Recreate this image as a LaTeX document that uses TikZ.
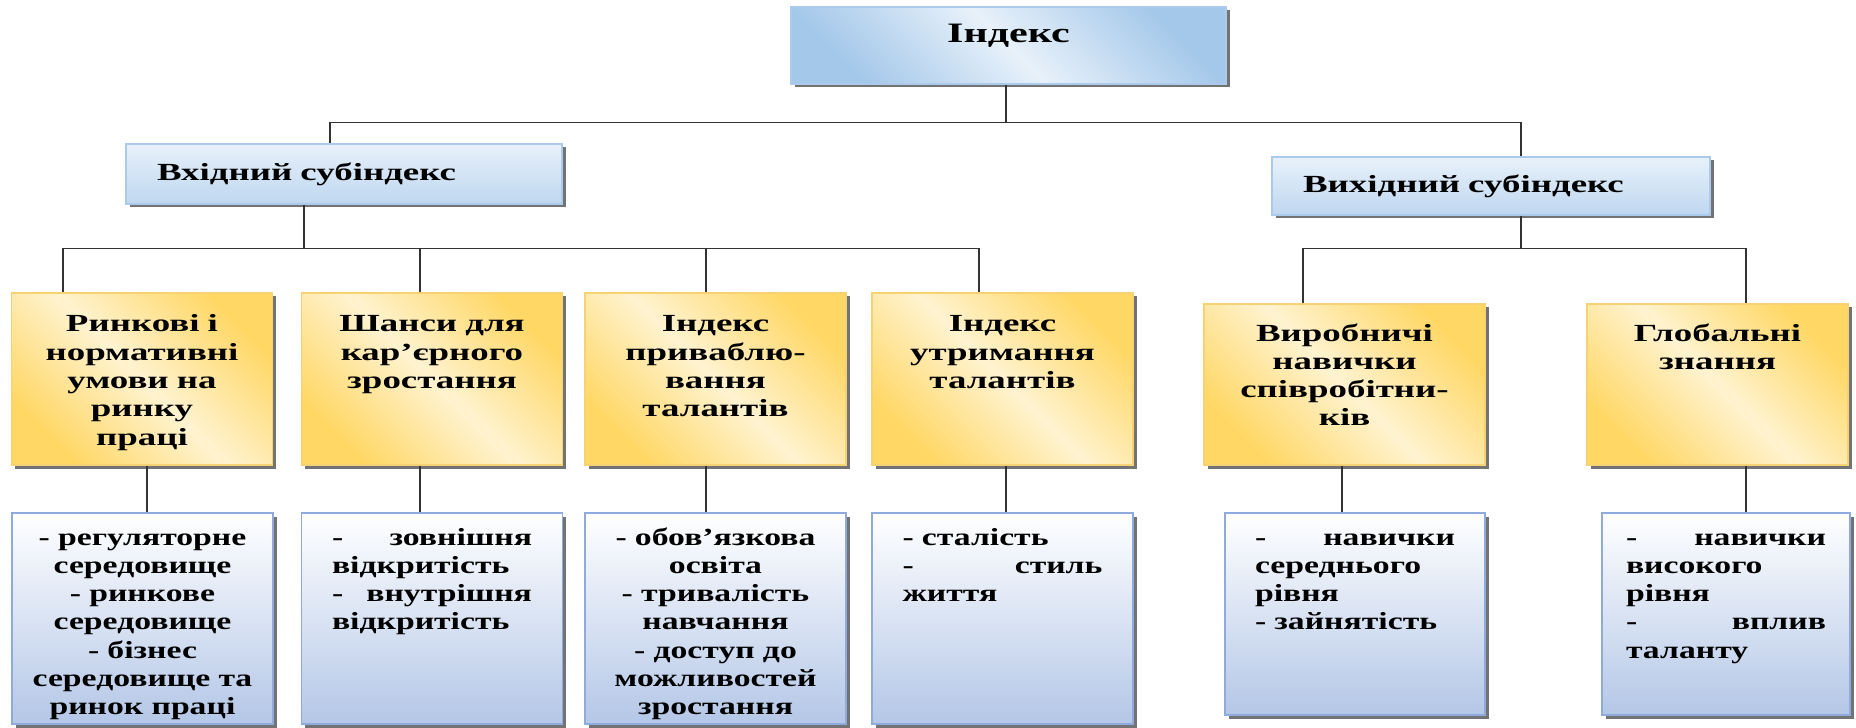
\documentclass[tikz,border=0pt]{standalone}
\usepackage{fontspec}
\usepackage{tikz}
\usetikzlibrary{shadows}
\setmainfont{Liberation Serif}
\newfontfamily\wideserif[FakeStretch=1.5]{Liberation Serif}
\newfontfamily\listserif[FakeStretch=1.37]{Liberation Serif}
\definecolor{honey}{RGB}{255, 215, 100}
\definecolor{cream}{RGB}{255, 243, 208}
\definecolor{honeyline}{RGB}{246, 210, 115}
\definecolor{skyblue}{RGB}{164, 200, 234}
\definecolor{iceblue}{RGB}{232, 241, 250}
\definecolor{paleblue}{RGB}{190, 215, 240}
\definecolor{skyline}{RGB}{172, 202, 236}
\definecolor{mistblue}{RGB}{180, 199, 231}
\definecolor{mistline}{RGB}{143, 170, 220}

\begin{document}
\begin{tikzpicture}[
    boxshadow/.style = {drop shadow={shadow xshift=0.07cm, shadow yshift=-0.07cm, fill=black!55, opacity=1}},
    headbox/.style   = {boxshadow, draw=skyline, line width=0.6pt, inner sep=0pt,
                        top color=iceblue, bottom color=paleblue,
                        font=\wideserif\bfseries\fontsize{14}{16.1}\selectfont},
    goldbox/.style   = {boxshadow, draw=honeyline, line width=0.6pt, inner sep=0pt,
                        top color=honey, bottom color=honey, middle color=cream, shading angle=-45,
                        text width=4.6cm, align=center, minimum width=5.22cm,
                        font=\wideserif\bfseries\fontsize{14}{16.1}\selectfont},
    listbox/.style   = {boxshadow, draw=mistline, line width=0.6pt, inner sep=0pt,
                        top color=white, bottom color=mistblue,
                        text width=4.0cm, align=left, minimum width=5.22cm, text height=0.64cm,
                        font=\listserif\bfseries\fontsize{14}{16.1}\selectfont},
    link/.style      = {draw=black!80, line width=1.1pt}
]
\useasboundingbox (0,0) rectangle (37.12,14.54);

\node[headbox, top color=skyblue, bottom color=skyblue, middle color=iceblue, shading angle=-45,
      font=\wideserif\bfseries\fontsize{16}{18}\selectfont,
      text width=8.70cm, align=center, text height=0.72cm, text depth=0.82cm]         (index) at (20.17,13.63) {Індекс};
\node[headbox, text width=7.48cm, inner xsep=0.62cm, align=left, minimum height=1.20cm] (vin)  at ( 6.88,11.06) {Вхідний субіндекс};
\node[headbox, text width=7.52cm, inner xsep=0.62cm, align=left, minimum height=1.16cm] (vout) at (29.82,10.82) {Вихідний субіндекс};

\node[goldbox, text height=0.78cm, text depth=2.66cm]                     (y1) at ( 2.84,6.96) {Ринкові і\\нормативні\\умови на\\ринку\\праці};
\node[goldbox, text height=0.78cm, text depth=2.66cm]                     (y2) at ( 8.64,6.96) {Шанси для\\кар’єрного\\зростання};
\node[goldbox, text height=0.78cm, text depth=2.66cm]                     (y3) at (14.31,6.96) {Індекс\\приваблю-\\вання\\талантів};
\node[goldbox, text height=0.78cm, text depth=2.66cm]                     (y4) at (20.05,6.96) {Індекс\\утримання\\талантів};
\node[goldbox, text height=0.74cm, text depth=2.48cm, minimum width=5.62cm] (y5) at (26.89,6.85) {Виробничі\\навички\\співробітни-\\ків};
\node[goldbox, text height=0.74cm, text depth=2.48cm]                     (y6) at (34.35,6.85) {Глобальні\\знання};

\node[listbox, text depth=3.58cm, text width=4.9cm, align=center]         (b1) at ( 2.85,2.17) {- регуляторне\\середовище\\- ринкове\\середовище\\- бізнес\\середовище та\\ринок праці};
\node[listbox, text depth=3.58cm]                                         (b2) at ( 8.64,2.17) {-\hfill зовнішня\\відкритість\\-\hfill внутрішня\\відкритість};
\node[listbox, text depth=3.58cm, text width=4.6cm, align=center]         (b3) at (14.31,2.17) {- обов’язкова\\освіта\\- тривалість\\навчання\\- доступ до\\можливостей\\зростання};
\node[listbox, text depth=3.58cm]                                         (b4) at (20.05,2.17) {- сталість\\-\hfill стиль\\життя};
\node[listbox, text depth=3.40cm, minimum width=5.20cm]                   (b5) at (27.10,2.26) {-\hfill навички\\середнього\\рівня\\- зайнятість};
\node[listbox, text depth=3.40cm, minimum width=4.96cm]                   (b6) at (34.52,2.26) {-\hfill навички\\високого\\рівня\\-\hfill вплив\\таланту};

\draw[link] ([xshift=-0.05cm]index.south) -- ++(0,-0.76) coordinate (hub);
\draw[link] ([xshift=-0.80cm]vin.south)   -- ++(0,-0.88) coordinate (inbus);
\draw[link] ([xshift= 0.60cm]vout.south)  -- ++(0,-0.66) coordinate (outbus);
\foreach \n/\dx in {vin/-0.28, vout/0.60}
    \draw[link] (hub) -| ([xshift=\dx cm]\n.north);
\foreach \n/\dx in {y1/-1.58, y2/-0.24, y3/-0.19, y4/-0.47}
    \draw[link] (inbus) -| ([xshift=\dx cm]\n.north);
\foreach \n/\dx in {y5/-0.83, y6/0.57}
    \draw[link] (outbus) -| ([xshift=\dx cm]\n.north);
\foreach \n/\dx in {1/0.10, 2/-0.24, 3/-0.19, 4/0.07, 5/-0.05, 6/0.57}
    \draw[link] (y\n.south) ++(\dx,0) coordinate (drop) -- (drop |- b\n.north);
\end{tikzpicture}
\end{document}
